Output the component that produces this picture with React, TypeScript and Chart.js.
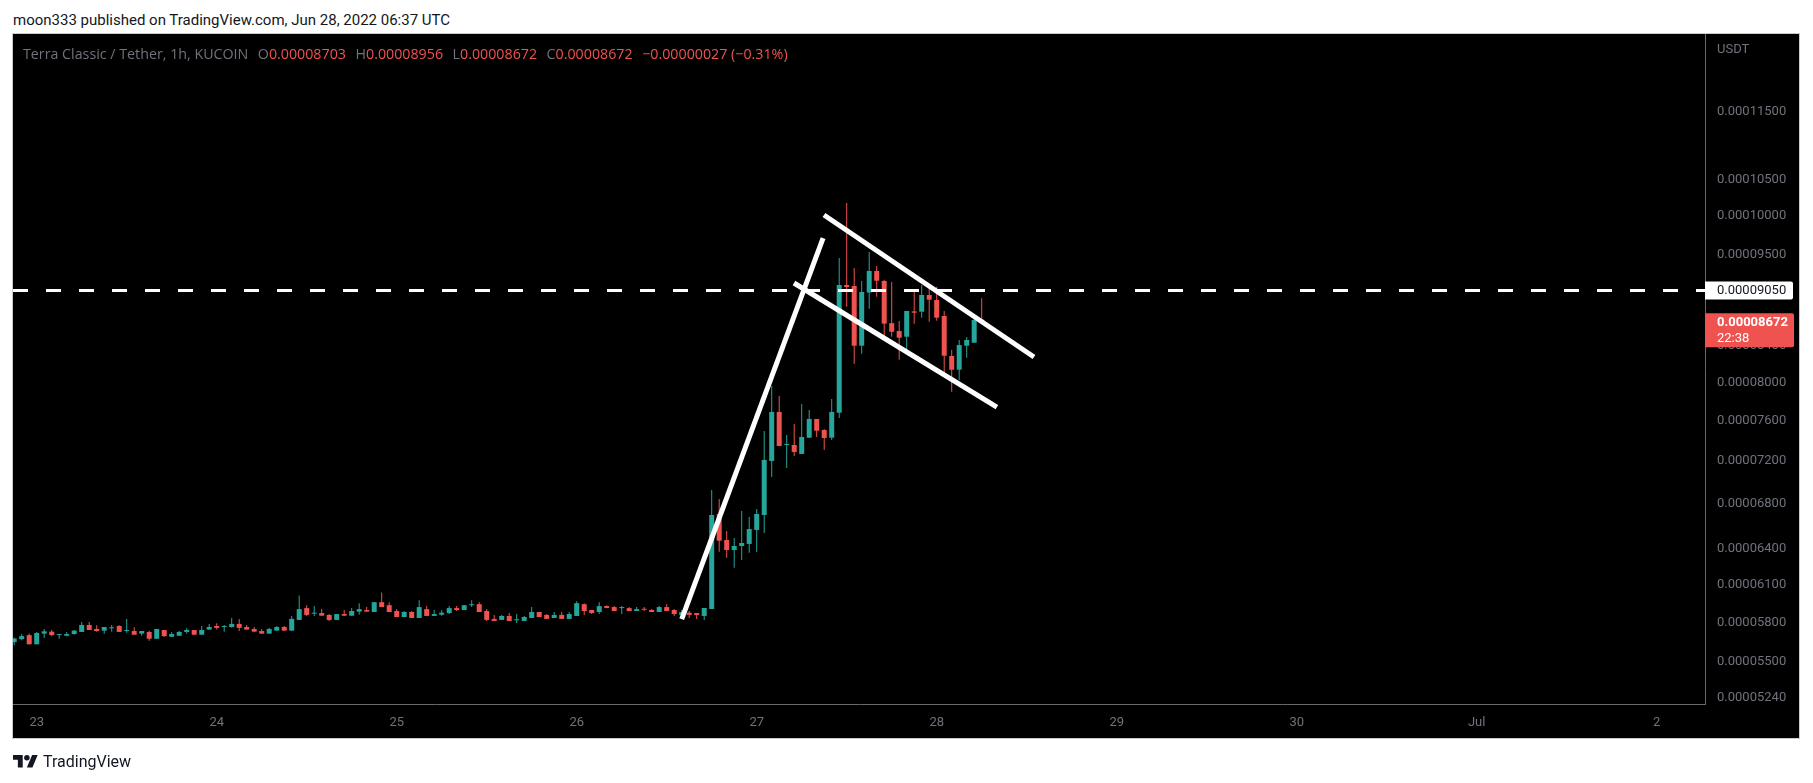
import React, { useEffect, useRef } from "react";
import { Chart, registerables } from "chart.js";

Chart.register(...registerables);

// hours are counted from Jun 23 00:00 UTC; first candle is Jun 22 21:00
const FIRST_HOUR = -3;

const opens = [
  0.00005648, 0.00005671, 0.00005702, 0.00005632, 0.00005713, 0.00005728, 0.00005702, 0.00005697, 0.00005710, 0.00005726,
  0.00005780, 0.00005749, 0.00005736, 0.00005754, 0.00005772, 0.00005733, 0.00005733, 0.00005713, 0.00005726, 0.00005674,
  0.00005741, 0.00005689, 0.00005697, 0.00005726, 0.00005741, 0.00005705, 0.00005744, 0.00005772, 0.00005764, 0.00005764,
  0.00005788, 0.00005764, 0.00005749, 0.00005733, 0.00005713, 0.00005736, 0.00005764, 0.00005736, 0.00005819, 0.00005912,
  0.00005868, 0.00005873, 0.00005858, 0.00005819, 0.00005865, 0.00005852, 0.00005884, 0.00005897, 0.00005881, 0.00005959,
  0.00005935, 0.00005889, 0.00005842, 0.00005881, 0.00005834, 0.00005904, 0.00005850, 0.00005860, 0.00005873, 0.00005912,
  0.00005897, 0.00005935, 0.00005943, 0.00005889, 0.00005827, 0.00005819, 0.00005850, 0.00005816, 0.00005811, 0.00005834,
  0.00005881, 0.00005858, 0.00005834, 0.00005858, 0.00005827, 0.00005850, 0.00005943, 0.00005897, 0.00005881, 0.00005928,
  0.00005920, 0.00005912, 0.00005912, 0.00005889, 0.00005907, 0.00005897, 0.00005881, 0.00005920, 0.00005897, 0.00005858,
  0.00005876, 0.00005873, 0.00005850, 0.00005905, 0.00006707, 0.00006477, 0.00006391, 0.00006425, 0.00006443, 0.00006565,
  0.00006698, 0.00007201, 0.00007690, 0.00007357, 0.00007357, 0.00007269, 0.00007429, 0.00007618, 0.00007506, 0.00007429,
  0.00007683, 0.00009117, 0.00009104, 0.00008404, 0.00009025, 0.00009289, 0.00009166, 0.00008662, 0.00008571, 0.00008506,
  0.00008800, 0.00008796, 0.00008995, 0.00008935, 0.00008746, 0.00008289, 0.00008138, 0.00008404, 0.00008438, 0.00008703,
];
const highs = [
  0.00005682, 0.00005710, 0.00005715, 0.00005726, 0.00005749, 0.00005741, 0.00005707, 0.00005726, 0.00005741, 0.00005803,
  0.00005803, 0.00005777, 0.00005764, 0.00005780, 0.00005777, 0.00005827, 0.00005762, 0.00005733, 0.00005736, 0.00005749,
  0.00005741, 0.00005726, 0.00005733, 0.00005754, 0.00005741, 0.00005772, 0.00005788, 0.00005793, 0.00005780, 0.00005834,
  0.00005827, 0.00005780, 0.00005764, 0.00005749, 0.00005757, 0.00005772, 0.00005772, 0.00005850, 0.00006013, 0.00005935,
  0.00005928, 0.00005904, 0.00005865, 0.00005865, 0.00005897, 0.00005912, 0.00005951, 0.00005920, 0.00005959, 0.00006036,
  0.00005959, 0.00005904, 0.00005889, 0.00005889, 0.00005974, 0.00005928, 0.00005897, 0.00005897, 0.00005928, 0.00005928,
  0.00005935, 0.00005974, 0.00005959, 0.00005904, 0.00005858, 0.00005858, 0.00005873, 0.00005865, 0.00005850, 0.00005920,
  0.00005881, 0.00005865, 0.00005881, 0.00005881, 0.00005881, 0.00005966, 0.00005951, 0.00005897, 0.00005959, 0.00005935,
  0.00005928, 0.00005928, 0.00005920, 0.00005920, 0.00005920, 0.00005904, 0.00005928, 0.00005943, 0.00005904, 0.00005897,
  0.00005889, 0.00005873, 0.00005913, 0.00006926, 0.00006843, 0.00006556, 0.00006495, 0.00006734, 0.00006680, 0.00006752,
  0.00007496, 0.00007962, 0.00007856, 0.00007456, 0.00007567, 0.00007772, 0.00007710, 0.00007618, 0.00007516, 0.00007825,
  0.00009453, 0.00010176, 0.00009327, 0.00009166, 0.00009529, 0.00009352, 0.00009178, 0.00009154, 0.00008687, 0.00008804,
  0.00009031, 0.00009117, 0.00009117, 0.00009096, 0.00008804, 0.00008356, 0.00008469, 0.00008503, 0.00008746, 0.00008956,
];
const lows = [
  0.00005625, 0.00005663, 0.00005632, 0.00005632, 0.00005679, 0.00005694, 0.00005674, 0.00005694, 0.00005705, 0.00005726,
  0.00005741, 0.00005728, 0.00005713, 0.00005728, 0.00005726, 0.00005720, 0.00005705, 0.00005697, 0.00005658, 0.00005674,
  0.00005687, 0.00005689, 0.00005697, 0.00005713, 0.00005705, 0.00005705, 0.00005744, 0.00005744, 0.00005728, 0.00005759,
  0.00005733, 0.00005744, 0.00005728, 0.00005713, 0.00005713, 0.00005736, 0.00005736, 0.00005736, 0.00005819, 0.00005850,
  0.00005850, 0.00005852, 0.00005811, 0.00005819, 0.00005852, 0.00005852, 0.00005860, 0.00005884, 0.00005881, 0.00005920,
  0.00005881, 0.00005842, 0.00005842, 0.00005834, 0.00005834, 0.00005850, 0.00005850, 0.00005852, 0.00005865, 0.00005889,
  0.00005897, 0.00005920, 0.00005881, 0.00005811, 0.00005811, 0.00005819, 0.00005811, 0.00005795, 0.00005811, 0.00005834,
  0.00005842, 0.00005827, 0.00005834, 0.00005827, 0.00005827, 0.00005850, 0.00005858, 0.00005865, 0.00005865, 0.00005912,
  0.00005889, 0.00005865, 0.00005889, 0.00005889, 0.00005889, 0.00005881, 0.00005881, 0.00005889, 0.00005850, 0.00005858,
  0.00005834, 0.00005827, 0.00005819, 0.00005905, 0.00006376, 0.00006325, 0.00006241, 0.00006306, 0.00006368, 0.00006374,
  0.00006538, 0.00007048, 0.00007347, 0.00007133, 0.00007249, 0.00007269, 0.00007429, 0.00007436, 0.00007308, 0.00007407,
  0.00007628, 0.00008855, 0.00008204, 0.00008315, 0.00008832, 0.00008975, 0.00008506, 0.00008506, 0.00008248, 0.00008315,
  0.00008656, 0.00008726, 0.00008679, 0.00008691, 0.00008059, 0.00007902, 0.00008027, 0.00008270, 0.00008438, 0.00008672,
];
const closes = [
  0.00005676, 0.00005694, 0.00005632, 0.00005718, 0.00005731, 0.00005702, 0.00005707, 0.00005710, 0.00005736, 0.00005780,
  0.00005741, 0.00005733, 0.00005764, 0.00005759, 0.00005726, 0.00005741, 0.00005705, 0.00005733, 0.00005674, 0.00005749,
  0.00005694, 0.00005710, 0.00005726, 0.00005741, 0.00005705, 0.00005741, 0.00005764, 0.00005757, 0.00005772, 0.00005788,
  0.00005757, 0.00005744, 0.00005728, 0.00005713, 0.00005749, 0.00005764, 0.00005736, 0.00005827, 0.00005904, 0.00005858,
  0.00005876, 0.00005852, 0.00005819, 0.00005865, 0.00005852, 0.00005889, 0.00005904, 0.00005884, 0.00005959, 0.00005920,
  0.00005881, 0.00005842, 0.00005881, 0.00005834, 0.00005920, 0.00005850, 0.00005865, 0.00005876, 0.00005912, 0.00005897,
  0.00005935, 0.00005943, 0.00005881, 0.00005819, 0.00005811, 0.00005850, 0.00005811, 0.00005824, 0.00005842, 0.00005881,
  0.00005842, 0.00005827, 0.00005858, 0.00005827, 0.00005865, 0.00005951, 0.00005889, 0.00005873, 0.00005928, 0.00005912,
  0.00005889, 0.00005920, 0.00005889, 0.00005904, 0.00005899, 0.00005881, 0.00005920, 0.00005889, 0.00005865, 0.00005881,
  0.00005858, 0.00005858, 0.00005913, 0.00006698, 0.00006471, 0.00006391, 0.00006425, 0.00006451, 0.00006573, 0.00006707,
  0.00007211, 0.00007690, 0.00007347, 0.00007367, 0.00007288, 0.00007436, 0.00007618, 0.00007499, 0.00007426, 0.00007690,
  0.00009117, 0.00009092, 0.00008404, 0.00009031, 0.00009289, 0.00009169, 0.00008656, 0.00008563, 0.00008495, 0.00008804,
  0.00008784, 0.00008995, 0.00008939, 0.00008726, 0.00008292, 0.00008138, 0.00008411, 0.00008469, 0.00008699, 0.00008672,
];

const dayTicks = [0, 24, 48, 72, 96, 120, 144, 168, 192, 216];
const dayLabels = ["23", "24", "25", "26", "27", "28", "29", "30", "Jul", "2"];
const priceTicks = [
  0.0000524, 0.000055, 0.000058, 0.000061, 0.000064, 0.000068, 0.000072, 0.000076,
  0.00008, 0.000084, 0.000095, 0.0001, 0.000105, 0.000115,
];

const levelPrice = 0.0000905;
const lastPrice = 0.00008672;
const countdown = "22:38";

const legendTitle = "Terra Classic / Tether, 1h, KUCOIN";
const legendItems = [
  { key: "O", value: "0.00008703" },
  { key: "H", value: "0.00008956" },
  { key: "L", value: "0.00008672" },
  { key: "C", value: "0.00008672" },
  { key: "", value: "−0.00000027 (−0.31%)" },
];

const flagpole = [
  { x: 86.0, y: 0.00005826 },
  { x: 104.85, y: 0.00009709 },
];
const channelUpper = [
  { x: 104.97, y: 0.00010013 },
  { x: 132.97, y: 0.00008278 },
];
const channelLower = [
  { x: 100.97, y: 0.00009141 },
  { x: 128.03, y: 0.00007741 },
];

const X_MIN = -3.16;
const X_MAX = 222.44;
const Y_MIN = 0.000051988;
const Y_MAX = 0.00012763;

const UP = "#26a69a";
const DOWN = "#ef5350";
const AXIS_TEXT = "#70737c";
const FONT = "Roboto, 'DejaVu Sans', sans-serif";
const LEGEND_FONT = "'Open Sans', 'Noto Sans', sans-serif";

const framePlugin = {
  id: "tvFrame",
  beforeDraw(chart: any) {
    const { ctx } = chart;
    const x = chart.scales.x;
    const y = chart.scales.y;
    const left = x.left;
    const top = y.top;
    const right = y.right;
    const bottom = x.bottom;
    ctx.save();
    ctx.fillStyle = "#000000";
    ctx.fillRect(left, top, right - left, bottom - top);
    ctx.strokeStyle = "#c9cbd1";
    ctx.lineWidth = 1;
    ctx.strokeRect(left - 0.5, top - 0.5, right - left + 1, bottom - top + 1);
    ctx.restore();
  },
  afterDraw(chart: any) {
    const { ctx } = chart;
    const y = chart.scales.y;
    const axisLeft = y.left;
    const textX = axisLeft + 12;
    ctx.save();
    ctx.font = `13px ${FONT}`;
    ctx.textBaseline = "middle";
    ctx.textAlign = "left";
    ctx.fillStyle = AXIS_TEXT;
    ctx.fillText("USDT", textX, y.top + 16);

    // horizontal level label
    const ly = y.getPixelForValue(levelPrice);
    ctx.fillStyle = "#ffffff";
    ctx.beginPath();
    ctx.roundRect(axisLeft, ly - 9, 88, 18, [0, 2, 2, 0]);
    ctx.fill();
    ctx.fillStyle = "#131722";
    ctx.fillText(levelPrice.toFixed(8), textX, ly + 0.5);

    // last price label
    const py = y.getPixelForValue(lastPrice);
    ctx.fillStyle = DOWN;
    ctx.beginPath();
    ctx.roundRect(axisLeft, py - 9, 89, 34, [0, 2, 2, 0]);
    ctx.fill();
    ctx.fillStyle = "#ffffff";
    ctx.font = `bold 13px ${FONT}`;
    ctx.fillText(lastPrice.toFixed(8), textX, py + 0.5);
    ctx.font = `13px ${FONT}`;
    ctx.fillText(countdown, textX, py + 16.5);
    ctx.restore();
  },
};

export default function App() {
  const canvasRef = useRef<HTMLCanvasElement | null>(null);

  useEffect(() => {
    const canvas = canvasRef.current;
    if (!canvas) return;
    const hours = opens.map((_, i) => FIRST_HOUR + i);
    const colors = opens.map((o, i) => (closes[i] >= o ? UP : DOWN));

    const chart = new Chart(canvas, {
      type: "bar",
      data: {
        datasets: [
          {
            type: "line",
            data: flagpole,
            borderColor: "#ffffff",
            borderWidth: 5,
            pointRadius: 0,
            order: 0,
          } as any,
          {
            type: "line",
            data: channelUpper,
            borderColor: "#ffffff",
            borderWidth: 5,
            pointRadius: 0,
            order: 0,
          } as any,
          {
            type: "line",
            data: channelLower,
            borderColor: "#ffffff",
            borderWidth: 5,
            pointRadius: 0,
            order: 0,
          } as any,
          {
            type: "line",
            data: [
              { x: X_MIN, y: levelPrice },
              { x: X_MAX, y: levelPrice },
            ],
            borderColor: "#ffffff",
            borderWidth: 3,
            borderDash: [15, 18],
            pointRadius: 0,
            order: 1,
          } as any,
          {
            type: "bar",
            data: hours.map((h, i) => ({ x: h, y: [opens[i], closes[i]] })),
            backgroundColor: colors,
            borderWidth: 0,
            grouped: false,
            maxBarThickness: 5,
            minBarLength: 1,
            order: 2,
          } as any,
          {
            type: "bar",
            data: hours.map((h, i) => ({ x: h, y: [lows[i], highs[i]] })),
            backgroundColor: colors,
            borderWidth: 0,
            grouped: false,
            maxBarThickness: 1,
            order: 3,
          } as any,
        ],
      },
      options: {
        animation: false,
        responsive: false,
        devicePixelRatio: 1,
        layout: { padding: { left: 13, top: 34, right: 14, bottom: 45 } },
        plugins: {
          legend: { display: false },
          tooltip: { enabled: false },
        },
        scales: {
          x: {
            type: "linear",
            min: X_MIN,
            max: X_MAX,
            offset: false,
            bounds: "data",
            grid: { display: false, drawTicks: false },
            border: { display: true, color: "#6a6a6a", width: 1 },
            afterBuildTicks: (scale: any) => {
              scale.ticks = dayTicks.map((v) => ({ value: v }));
            },
            afterFit: (scale: any) => {
              scale.height = 34;
            },
            ticks: {
              autoSkip: false,
              maxRotation: 0,
              padding: 11,
              color: AXIS_TEXT,
              font: { family: FONT, size: 13 },
              callback: (v: any) => {
                const idx = dayTicks.indexOf(Number(v));
                return idx >= 0 ? dayLabels[idx] : "";
              },
            },
          },
          y: {
            type: "logarithmic",
            position: "right",
            min: Y_MIN,
            max: Y_MAX,
            bounds: "data",
            grid: { display: false, drawTicks: false },
            border: { display: true, color: "#6a6a6a", width: 1 },
            afterBuildTicks: (scale: any) => {
              scale.ticks = priceTicks.map((v) => ({ value: v }));
            },
            afterFit: (scale: any) => {
              scale.width = 94;
            },
            ticks: {
              autoSkip: false,
              crossAlign: "near",
              padding: 12,
              color: AXIS_TEXT,
              font: { family: FONT, size: 13 },
              callback: (v: any) => Number(v).toFixed(8),
            },
          },
        },
      } as any,
      plugins: [framePlugin],
    });
    return () => chart.destroy();
  }, []);

  return (
    <div
      style={{
        position: "absolute",
        left: 0,
        top: 0,
        width: 1813,
        height: 783,
        background: "#ffffff",
        fontFamily: FONT,
      }}
    >
      <div
        style={{
          position: "absolute",
          left: 13,
          top: 11,
          fontSize: 15,
          lineHeight: "18px",
          color: "#131722",
          whiteSpace: "pre",
        }}
      >
        moon333 published on TradingView.com, Jun 28, 2022 06:37 UTC
      </div>
      <canvas
        ref={canvasRef}
        width={1813}
        height={783}
        style={{ position: "absolute", left: 0, top: 0, width: 1813, height: 783 }}
      />
      <div
        style={{
          position: "absolute",
          left: 23,
          top: 44,
          fontSize: 14.25,
          lineHeight: "19px",
          color: AXIS_TEXT,
          whiteSpace: "pre",
          fontFamily: LEGEND_FONT,
        }}
      >
        <span>{legendTitle}</span>
        {legendItems.map((it, i) => (
          <span key={i} style={{ marginLeft: 9.5 }}>
            {it.key}
            <span style={{ color: DOWN }}>{it.value}</span>
          </span>
        ))}
      </div>
      <div
        style={{
          position: "absolute",
          left: 13,
          top: 752,
          display: "flex",
          alignItems: "center",
          gap: 5,
          fontSize: 16,
          lineHeight: "19px",
          color: "#131722",
        }}
      >
        <svg width="25" height="12.5" viewBox="0 4 36 18">
          <path d="M14 22H7V11H0V4h14v18zM28 22h-8l7.5-18h8L28 22z" fill="#131722" />
          <circle cx="20" cy="8" r="4" fill="#131722" />
        </svg>
        <span>TradingView</span>
      </div>
    </div>
  );
}
